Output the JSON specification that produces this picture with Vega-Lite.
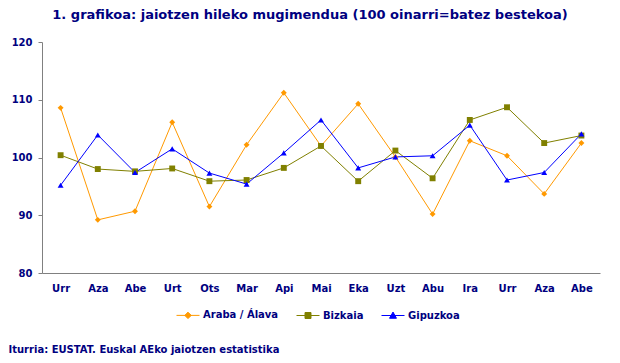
{
  "$schema": "https://vega.github.io/schema/vega-lite/v6.json",
  "width": 558,
  "height": 231,
  "autosize": {"type": "none"},
  "padding": {"left": 42, "top": 42, "right": 20, "bottom": 90},
  "background": "white",
  "title": {
    "text": "1. grafikoa: jaiotzen hileko mugimendua (100 oinarri=batez bestekoa)",
    "font": "DejaVu Sans",
    "fontSize": 13,
    "fontWeight": "bold",
    "color": "#000080",
    "anchor": "middle",
    "dx": -11,
    "offset": 15
  },
  "data": {
    "values": [
      {"i": 0, "hil": "Urr", "serie": "Araba / Álava", "v": 108.6},
      {"i": 1, "hil": "Aza", "serie": "Araba / Álava", "v": 89.2},
      {"i": 2, "hil": "Abe", "serie": "Araba / Álava", "v": 90.7},
      {"i": 3, "hil": "Urt", "serie": "Araba / Álava", "v": 106.1},
      {"i": 4, "hil": "Ots", "serie": "Araba / Álava", "v": 91.5},
      {"i": 5, "hil": "Mar", "serie": "Araba / Álava", "v": 102.2},
      {"i": 6, "hil": "Api", "serie": "Araba / Álava", "v": 111.2},
      {"i": 7, "hil": "Mai", "serie": "Araba / Álava", "v": 102.0},
      {"i": 8, "hil": "Eka", "serie": "Araba / Álava", "v": 109.3},
      {"i": 9, "hil": "Uzt", "serie": "Araba / Álava", "v": 100.1},
      {"i": 10, "hil": "Abu", "serie": "Araba / Álava", "v": 90.2},
      {"i": 11, "hil": "Ira", "serie": "Araba / Álava", "v": 102.9},
      {"i": 12, "hil": "Urr", "serie": "Araba / Álava", "v": 100.3},
      {"i": 13, "hil": "Aza", "serie": "Araba / Álava", "v": 93.7},
      {"i": 14, "hil": "Abe", "serie": "Araba / Álava", "v": 102.5},
      {"i": 0, "hil": "Urr", "serie": "Bizkaia", "v": 100.4},
      {"i": 1, "hil": "Aza", "serie": "Bizkaia", "v": 98.0},
      {"i": 2, "hil": "Abe", "serie": "Bizkaia", "v": 97.6},
      {"i": 3, "hil": "Urt", "serie": "Bizkaia", "v": 98.1},
      {"i": 4, "hil": "Ots", "serie": "Bizkaia", "v": 95.9},
      {"i": 5, "hil": "Mar", "serie": "Bizkaia", "v": 96.1},
      {"i": 6, "hil": "Api", "serie": "Bizkaia", "v": 98.2},
      {"i": 7, "hil": "Mai", "serie": "Bizkaia", "v": 102.0},
      {"i": 8, "hil": "Eka", "serie": "Bizkaia", "v": 95.9},
      {"i": 9, "hil": "Uzt", "serie": "Bizkaia", "v": 101.2},
      {"i": 10, "hil": "Abu", "serie": "Bizkaia", "v": 96.4},
      {"i": 11, "hil": "Ira", "serie": "Bizkaia", "v": 106.5},
      {"i": 12, "hil": "Urr", "serie": "Bizkaia", "v": 108.7},
      {"i": 13, "hil": "Aza", "serie": "Bizkaia", "v": 102.5},
      {"i": 14, "hil": "Abe", "serie": "Bizkaia", "v": 103.8},
      {"i": 0, "hil": "Urr", "serie": "Gipuzkoa", "v": 95.2},
      {"i": 1, "hil": "Aza", "serie": "Gipuzkoa", "v": 103.9},
      {"i": 2, "hil": "Abe", "serie": "Gipuzkoa", "v": 97.4},
      {"i": 3, "hil": "Urt", "serie": "Gipuzkoa", "v": 101.5},
      {"i": 4, "hil": "Ots", "serie": "Gipuzkoa", "v": 97.3},
      {"i": 5, "hil": "Mar", "serie": "Gipuzkoa", "v": 95.4},
      {"i": 6, "hil": "Api", "serie": "Gipuzkoa", "v": 100.8},
      {"i": 7, "hil": "Mai", "serie": "Gipuzkoa", "v": 106.5},
      {"i": 8, "hil": "Eka", "serie": "Gipuzkoa", "v": 98.2},
      {"i": 9, "hil": "Uzt", "serie": "Gipuzkoa", "v": 100.1},
      {"i": 10, "hil": "Abu", "serie": "Gipuzkoa", "v": 100.3},
      {"i": 11, "hil": "Ira", "serie": "Gipuzkoa", "v": 105.6},
      {"i": 12, "hil": "Urr", "serie": "Gipuzkoa", "v": 96.1},
      {"i": 13, "hil": "Aza", "serie": "Gipuzkoa", "v": 97.4},
      {"i": 14, "hil": "Abe", "serie": "Gipuzkoa", "v": 104.1}
    ]
  },
  "encoding": {
    "x": {
      "field": "i",
      "type": "ordinal",
      "scale": {"type": "point", "padding": 0.5},
      "axis": {
        "labelExpr": "['Urr','Aza','Abe','Urt','Ots','Mar','Api','Mai','Eka','Uzt','Abu','Ira','Urr','Aza','Abe'][datum.value]",
        "labelAngle": 0,
        "ticks": false,
        "labelPadding": 10,
        "title": "Iturria: EUSTAT. Euskal AEko jaiotzen estatistika",
        "titleAnchor": "start",
        "titleAlign": "left",
        "titleX": -34,
        "titleY": 76,
        "titleBaseline": "middle",
        "titleFont": "DejaVu Sans",
        "titleFontSize": 10,
        "titleFontWeight": "bold",
        "titleColor": "#000080"
      }
    },
    "y": {
      "field": "v",
      "type": "quantitative",
      "scale": {"domain": [80, 120], "nice": false, "zero": false},
      "axis": {"values": [80, 90, 100, 110, 120], "title": null, "tickSize": 4, "labelPadding": 6}
    },
    "color": {
      "field": "serie",
      "type": "nominal",
      "scale": {
        "domain": ["Araba / Álava", "Bizkaia", "Gipuzkoa"],
        "range": ["#FF9900", "#808000", "#0000FF"]
      },
      "legend": {
        "title": null,
        "orient": "none",
        "direction": "horizontal",
        "legendX": 134,
        "legendY": 261,
        "columnPadding": 15,
        "labelOffset": 3,
        "labelFont": "DejaVu Sans",
        "labelFontSize": 10,
        "labelFontWeight": "bold",
        "labelColor": "#000080",
        "symbolSize": 529,
        "symbolType": "M-1,0H1",
        "encode": {
          "symbols": {
            "update": {
              "shape": {"signal": "datum.value === 'Bizkaia' ? 'M-1,0H1M-0.26,-0.26H0.26V0.26H-0.26Z' : datum.value === 'Gipuzkoa' ? 'M-1,0H1M0,-0.3L0.3,0.24H-0.3Z' : 'M-1,0H1M0,-0.28L0.28,0L0,0.28L-0.28,0Z'"},
              "fill": {"scale": "color", "field": "value"},
              "stroke": {"scale": "color", "field": "value"},
              "strokeWidth": {"value": 1},
              "opacity": {"value": 1}
            }
          }
        }
      }
    }
  },
  "layer": [
    {"mark": {"type": "line", "strokeWidth": 1}},
    {
      "transform": [{"filter": "datum.serie === 'Araba / Álava'"}],
      "mark": {"type": "point", "filled": true, "opacity": 1, "shape": "diamond", "size": 35}
    },
    {
      "transform": [{"filter": "datum.serie === 'Bizkaia'"}],
      "mark": {"type": "point", "filled": true, "opacity": 1, "shape": "square", "size": 35}
    },
    {
      "transform": [{"filter": "datum.serie === 'Gipuzkoa'"}],
      "mark": {"type": "point", "filled": true, "opacity": 1, "shape": "triangle-up", "size": 35}
    }
  ],
  "config": {
    "view": {"stroke": null},
    "axis": {
      "domainColor": "#808080",
      "tickColor": "#808080",
      "grid": false,
      "labelColor": "#000080",
      "labelFont": "DejaVu Sans",
      "labelFontSize": 10,
      "labelFontWeight": "bold"
    }
  }
}
